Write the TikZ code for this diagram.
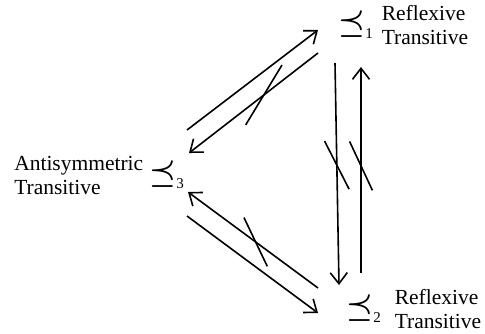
\documentclass[tikz,border=0pt]{standalone}
\usepackage{fontspec}
\setmainfont{Liberation Serif}
\usetikzlibrary{positioning,arrows.meta,decorations.markings}

\tikzset{
  rel/.style={inner sep=0pt, font=\fontsize{24.88}{25}\selectfont\boldmath},
  prop/.style={inner sep=0pt, align=left, font=\fontsize{21.5}{24}\selectfont},
  imp/.style={line width=1.6pt, -{Straight Barb[length=11pt,width=17pt,line width=1.6pt]}},
  notimp/.style 2 args={postaction={decorate}, decoration={markings,
    mark=at position #1 with {\draw[-, line width=1.6pt, rotate=#2] (-27pt,0pt) -- (27pt,0pt);}}},
  longnotimp/.style 2 args={postaction={decorate}, decoration={markings,
    mark=at position #1 with {\draw[-, line width=1.6pt, rotate=#2] (-35pt,0pt) -- (35pt,0pt);}}}
}
\newcommand{\bigpreceq}{\mathrel{\scalebox{1.2}{$\preceq$}}}
\newcommand{\subnum}[1]{\mbox{\fontsize{15}{15}\selectfont #1}}

\begin{document}
\begin{tikzpicture}[x=1pt, y=1pt]
  \useasboundingbox (0,0) rectangle (485,-333);

  % the three orderings
  \node[rel] (r1) at (356,-25) {$\bigpreceq_{\subnum{1}}$};
  \node[rel] (r2) at (364,-309) {$\bigpreceq_{\subnum{2}}$};
  \node[rel] (r3) at (167,-175) {$\bigpreceq_{\subnum{3}}$};

  % their properties
  \node[prop, right=8pt of r1] (p1) {Reflexive\\Transitive};
  \node[prop, right=13pt of r2] (p2) {Reflexive\\Transitive};
  \node[prop, left=6pt of r3] (p3) {Antisymmetric\\Transitive};

  % implications
  \draw[imp] ([shift={(20,45)}]r3.center) -- ([shift={(-38,-5)}]r1.center);
  \draw[imp, longnotimp={0.42}{21}] ([shift={(-38,-28)}]r1.center) -- ([shift={(22,22)}]r3.center);
  \draw[imp, notimp={0.46}{26}] ([shift={(-21,-38)}]r1.center) -- ([shift={(-25,24)}]r2.center);
  \draw[imp, notimp={0.52}{25}] ([shift={(-3,36)}]r2.center) -- ([shift={(5,-42)}]r1.center);
  \draw[imp, notimp={0.48}{-28}] ([shift={(-46,21)}]r2.center) -- ([shift={(21,-17)}]r3.center);
  \draw[imp] ([shift={(20,-41)}]r3.center) -- ([shift={(-46,-4)}]r2.center);
\end{tikzpicture}
\end{document}
